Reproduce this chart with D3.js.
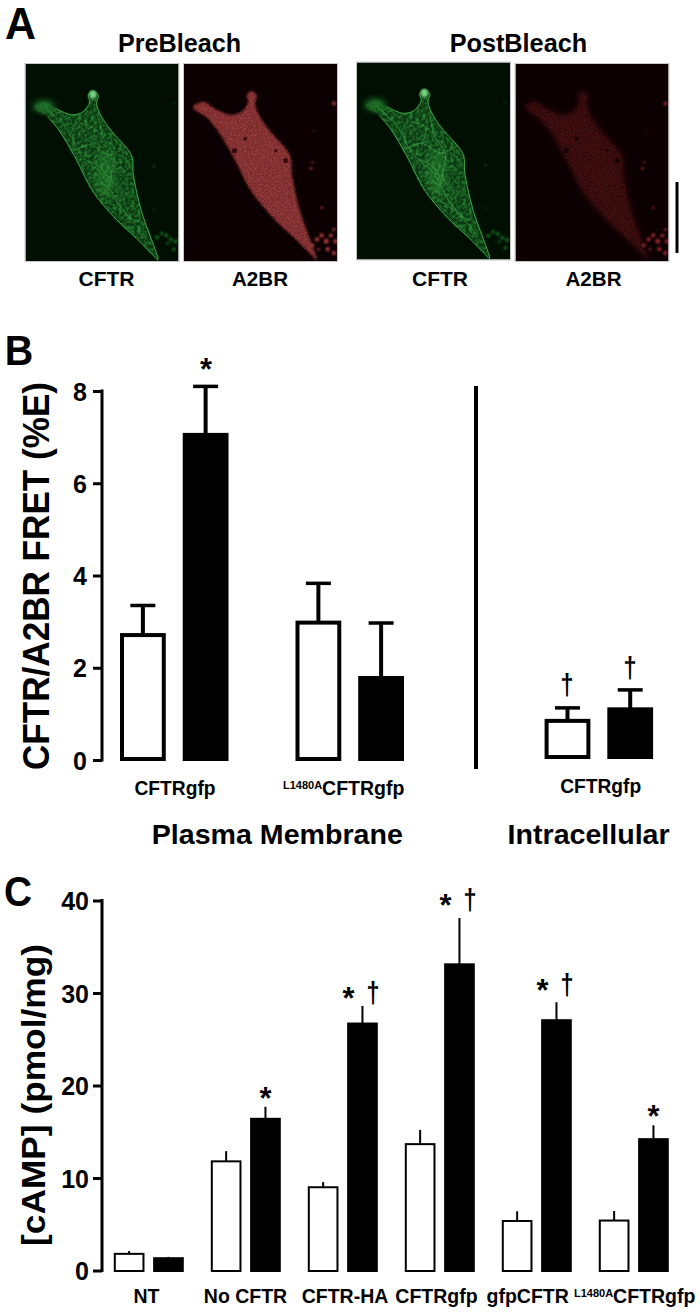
<!DOCTYPE html>
<html><head><meta charset="utf-8">
<script src="https://cdn.jsdelivr.net/npm/d3@7/dist/d3.min.js"></script>
<style>html,body{margin:0;background:#fff}svg{display:block}text{font-family:"Liberation Sans",Arial,sans-serif;font-weight:bold;fill:#000}</style>
</head><body><div id="c"></div>
<script>
// ---- Panel B data
const bGroups = ["CFTRgfp", "L1480A", "Intra"];
const bWhite = [2.73, 3.0, 0.87];
const bBlack = [7.07, 1.8, 1.12];
const bWhiteErr = [3.35, 3.83, 1.13];
const bBlackErr = [8.1, 2.97, 1.52];
const bTicks = [0, 2, 4, 6, 8];
// ---- Panel C data
const cGroups = ["NT", "No CFTR", "CFTR-HA", "CFTRgfp", "gfpCFTR", "L1480ACFTRgfp"];
const cWhite = [1.8, 11.8, 9.0, 13.66, 5.35, 5.4];
const cBlack = [1.33, 16.4, 26.7, 33.1, 27.06, 14.2];
const cWhiteErr = [2.1, 12.9, 9.56, 15.2, 6.4, 6.43];
const cBlackErr = [1.47, 17.7, 28.6, 38.1, 29.0, 15.7];
const cTicks = [0, 10, 20, 30, 40];
const cStar = [false, true, true, true, true, true];
const cDagger = [false, false, true, true, true, false];
const cMarkLevel = [0, 19.2, 30.0, 40.1, 30.9, 17.2];
// ---- Panel A micrograph shapes, in unit coordinates of one panel
const cellOutline = [[.06,.22],[.126,.193],[.2,.227],[.3,.258],[.375,.244],[.42,.193],[.41,.158],[.44,.138],[.475,.158],[.464,.2],[.486,.252],[.55,.33],[.693,.466],[.704,.56],[.758,.748],[.866,.995],[.835,.97],[.725,.884],[.595,.79],[.44,.645],[.32,.466],[.214,.33],[.148,.27]];
const cellFibers = [[[.14,.23],[.27,.33],[.36,.46],[.5,.56],[.6,.7],[.78,.87]],[[.48,.27],[.5,.36],[.58,.47],[.56,.58],[.66,.68]],[[.3,.45],[.42,.41],[.55,.46],[.66,.42]],[[.43,.5],[.5,.53],[.55,.62],[.48,.6]],[[.36,.3],[.45,.33],[.42,.42]],[[.5,.68],[.62,.74],[.72,.8]]];
const greenDebris = [[.86,.88,.014],[.89,.86,.012],[.92,.87,.014],[.95,.89,.014],[.98,.9,.014],[.97,.94,.012],[.93,.91,.01],[.84,.74,.006],[.84,.52,.007],[.97,.2,.006]];
const redDebris = [[.84,.92,.012],[.87,.89,.014],[.9,.87,.014],[.93,.9,.016],[.96,.87,.013],[.98,.84,.01],[.99,.9,.014],[.94,.94,.014],[.98,.96,.014],[.88,.94,.008],[.83,.53,.009],[.84,.5,.007],[.98,.2,.012],[.85,.34,.005],[.9,.73,.008]];
const redHoles = [[.33,.44,.017],[.665,.49,.017],[.4,.38,.012],[.6,.44,.01]];
const panelChannels = ["green", "red", "green", "red"];
const panelTitles = ["CFTR", "A2BR", "CFTR", "A2BR"];

const W = 700, H = 1315;
const svg = d3.select("#c").append("svg").attr("width", W).attr("height", H).attr("viewBox", [0,0,W,H]);
const defs = svg.append("defs");

function grain(id, freq, lo, hi, blur) {
  const f = defs.append("filter").attr("id", id).attr("x", "-5%").attr("y", "-5%").attr("width", "110%").attr("height", "110%").attr("color-interpolation-filters", "sRGB");
  f.append("feTurbulence").attr("type", "fractalNoise").attr("baseFrequency", freq).attr("numOctaves", 2).attr("seed", 4).attr("result", "n");
  f.append("feColorMatrix").attr("in", "n").attr("type", "matrix").attr("values", `0 0 0 0 0 0 0 0 0 0 0 0 0 0 0 ${hi} 0 0 0 ${lo}`).attr("result", "a");
  f.append("feGaussianBlur").attr("in", "SourceGraphic").attr("stdDeviation", blur).attr("result", "b");
  f.append("feComposite").attr("in", "b").attr("in2", "a").attr("operator", "in").attr("result", "c");
  f.append("feGaussianBlur").attr("in", "c").attr("stdDeviation", 0.6);
}
grain("grainG", 0.32, -0.9, 2.4, 0.8);
grain("grainR", 0.7, -1.0, 2.6, 0.8);
[["soft", .7], ["edge", 1], ["soft2", 3]].forEach(([id, s]) => defs.append("filter").attr("id", id).attr("color-interpolation-filters", "sRGB").attr("x", "-30%").attr("y", "-30%").attr("width", "160%").attr("height", "160%").append("feGaussianBlur").attr("stdDeviation", s));

function label(parent, str, x, y, size, width, rotate) {
  const t = parent.append("text").attr("text-anchor", "middle").attr("font-size", size)
    .attr("transform", `translate(${x},${y})` + (rotate ? ` rotate(${rotate})` : ""));
  if (width) t.attr("textLength", width).attr("lengthAdjust", "spacingAndGlyphs");
  t.text(str);
  return t;
}
function mutantLabel(parent, x, y) {
  const t = parent.append("text").attr("transform", `translate(${x},${y})`).attr("text-anchor", "middle");
  t.append("tspan").attr("font-size", 11).attr("dy", -6).text("L1480A");
  t.append("tspan").attr("font-size", 19.5).attr("dy", 6).text("CFTRgfp");
}

// ---------- Panel A
const gA = svg.append("g");
label(gA, "A", 20.5, 39, 44, 31);
label(gA, "PreBleach", 179.5, 52, 25, 123);
label(gA, "PostBleach", 518.4, 52, 25, 137.5);

const panelLeft = d3.scaleOrdinal().domain(d3.range(4)).range([25.5, 184, 357, 515.5]);
const panelTop = d3.scaleOrdinal().domain(d3.range(4)).range([64, 64, 62.5, 64]);
const panelW = 153, panelH = 197;
const labelCenter = d3.scaleOrdinal().domain(d3.range(4)).range([106.5, 260, 440, 593.5]);
const fiberLevel = d3.scaleOrdinal().domain(d3.range(4)).range([.45, 0, .7, 0]);

panelChannels.forEach((ch, i) => {
  const x = d3.scaleLinear().domain([0,1]).range([0, panelW]);
  const y = d3.scaleLinear().domain([0,1]).range([0, panelH]);
  const g = gA.append("g").attr("transform", `translate(${panelLeft(i)},${panelTop(i)})`);
  const clipId = "clip" + i;
  defs.append("clipPath").attr("id", clipId).append("rect").attr("width", panelW).attr("height", panelH);
  g.append("rect").attr("width", panelW).attr("height", panelH).attr("fill", ch === "green" ? "#010f03" : "#0d0003");
  const inner = g.append("g").attr("clip-path", `url(#${clipId})`);
  const outline = d3.line().x(d => x(d[0])).y(d => y(d[1])).curve(d3.curveCatmullRomClosed.alpha(.5))(cellOutline);
  const membrane = d3.line().x(d => x(d[0])).y(d => y(d[1])).curve(d3.curveCatmullRom.alpha(.5))(cellOutline.slice(2));
  if (ch === "green") {
    inner.append("path").attr("d", outline).attr("fill", "#0b3a12").attr("filter", "url(#edge)");
    inner.append("path").attr("d", outline).attr("fill", "#298233").attr("filter", "url(#grainG)");
    inner.append("ellipse").attr("cx", x(.52)).attr("cy", y(.56)).attr("rx", 10).attr("ry", 24).attr("fill", "#2f9038").attr("fill-opacity", .4).attr("filter", "url(#soft2)");
    inner.append("ellipse").attr("cx", x(.12)).attr("cy", y(.215)).attr("rx", 11).attr("ry", 6).attr("fill", "#22762c").attr("fill-opacity", .85).attr("filter", "url(#soft2)");
    inner.selectAll(".fiber").data(cellFibers).join("path").attr("class", "fiber")
      .attr("d", d => d3.line().x(p => x(p[0])).y(p => y(p[1])).curve(d3.curveCatmullRom)(d))
      .attr("fill", "none").attr("stroke", "#3fa648").attr("stroke-width", 1).attr("filter", "url(#soft)").attr("stroke-opacity", fiberLevel(i));
    inner.append("path").attr("d", membrane).attr("fill", "none").attr("stroke", "#47b350").attr("stroke-width", 1).attr("filter", "url(#soft)").attr("stroke-opacity", .9);
    inner.append("ellipse").attr("cx", x(.44)).attr("cy", y(.155)).attr("rx", 3.5).attr("ry", 4).attr("fill", "#79d284").attr("filter", "url(#edge)");
    inner.selectAll(".deb").data(greenDebris).join("circle").attr("class", "deb")
      .attr("cx", d => x(d[0])).attr("cy", d => y(d[1])).attr("r", d => x(d[2])).attr("fill", "#17601f").attr("filter", "url(#edge)");
  } else {
    const fill = i === 1 ? "#7a282a" : "#2e090b";
    const grainFill = i === 1 ? "#9c4646" : "#521315";
    inner.append("path").attr("d", outline).attr("fill", fill).attr("filter", i === 1 ? "url(#edge)" : "url(#soft2)");
    inner.append("path").attr("d", outline).attr("fill", grainFill).attr("filter", "url(#grainR)");
    inner.selectAll(".hole").data(redHoles).join("circle").attr("class", "hole")
      .attr("cx", d => x(d[0])).attr("cy", d => y(d[1])).attr("r", d => x(d[2]))
      .attr("fill", i === 1 ? "#3a0c0e" : "#150305").attr("filter", "url(#soft)");
    inner.selectAll(".deb").data(redDebris).join("circle").attr("class", "deb")
      .attr("cx", d => x(d[0])).attr("cy", d => y(d[1])).attr("r", d => x(d[2]))
      .attr("fill", i === 1 ? "#a83c3e" : "#96282e").attr("filter", "url(#edge)");
  }
  g.append("rect").attr("x", -.5).attr("y", -.5).attr("width", panelW+1).attr("height", panelH+1).attr("fill", "none").attr("stroke", "#c8c8c8").attr("stroke-width", 1);
  label(gA, panelTitles[i], labelCenter(i), 286, 20, 56);
});
gA.append("line").attr("x1", 677).attr("x2", 677).attr("y1", 182).attr("y2", 253).attr("stroke", "#000").attr("stroke-width", 3);

// ---------- Panel B
const gB = svg.append("g");
label(gB, "B", 19, 365, 42, 28.5);
const yB = d3.scaleLinear().domain([0, 8]).range([760, 391]);
const bLeft = d3.scaleOrdinal().domain(bGroups).range([120, 295.5, 544.6]);
const bSub = d3.scaleBand().domain(["white", "black"]).range([0, 108.5]).paddingInner(0.27);
const bShift = d3.scaleOrdinal().domain(bGroups).range([0, 0, -2]);

gB.append("g").attr("transform", "translate(102,0)")
  .call(d3.axisLeft(yB).tickValues(bTicks).tickSizeOuter(0).tickSize(9).tickPadding(6))
  .call(a => a.select(".domain").remove())
  .call(a => a.selectAll("line").attr("stroke", "#000").attr("stroke-width", 3))
  .call(a => a.selectAll("text").attr("font-size", 25).attr("dy", ".36em").attr("font-family", null));
gB.append("line").attr("x1", 102).attr("x2", 102).attr("y1", yB(8)-1.5).attr("y2", yB(0)+1.5).attr("stroke", "#000").attr("stroke-width", 3);

bGroups.forEach((g, i) => {
  const base = yB(0) + bShift(g) + 1;
  const wx = bLeft(g) + bSub("white"), bx = bLeft(g) + bSub("black"), bw = bSub.bandwidth();
  const err = (x, e, v) => {
    gB.append("line").attr("x1", x+bw/2).attr("x2", x+bw/2).attr("y1", yB(e)).attr("y2", yB(v)).attr("stroke", "#000").attr("stroke-width", 4);
    gB.append("line").attr("x1", x+bw/2-12.5).attr("x2", x+bw/2+12.5).attr("y1", yB(e)).attr("y2", yB(e)).attr("stroke", "#000").attr("stroke-width", 3.5);
  };
  err(wx, bWhiteErr[i], bWhite[i]);
  err(bx, bBlackErr[i], bBlack[i]);
  gB.append("rect").attr("x", wx+2).attr("y", yB(bWhite[i])+1).attr("width", bw-4).attr("height", base-yB(bWhite[i])-3).attr("fill", "#fff").attr("stroke", "#000").attr("stroke-width", 4);
  gB.append("rect").attr("x", bx).attr("y", yB(bBlack[i])-1).attr("width", bw).attr("height", base-yB(bBlack[i])+1).attr("fill", "#000");
});
gB.append("line").attr("x1", 476).attr("x2", 476).attr("y1", 386).attr("y2", 769).attr("stroke", "#000").attr("stroke-width", 4);
label(gB, "*", 206, 380, 32, 12);
label(gB, "†", 567, 695, 29, 13);
label(gB, "†", 630, 678, 29, 13);
label(gB, "CFTRgfp", 175, 795, 19.5, 81);
mutantLabel(gB, 343.7, 795);
label(gB, "CFTRgfp", 600.7, 793, 19.5, 81);
label(gB, "Plasma Membrane", 277.3, 844, 28.5, 251);
label(gB, "Intracellular", 588.6, 844, 28.5, 162);
label(gB, "CFTR/A2BR FRET (%E)", 49, 576, 37, 388, -90);

// ---------- Panel C
const gC = svg.append("g");
label(gC, "C", 18, 906, 42, 28);
const yC = d3.scaleLinear().domain([0, 40]).range([1270.5, 900.5]);
const cX = d3.scaleBand().domain(cGroups).range([113.8, 113.8 + 6*97]);
const cSub = d3.scaleBand().domain(["white", "black"]).range([0, 70]).paddingInner(0.22);

gC.append("g").attr("transform", "translate(102,0)")
  .call(d3.axisLeft(yC).tickValues(cTicks).tickSizeOuter(0).tickSize(9).tickPadding(4))
  .call(a => a.select(".domain").remove())
  .call(a => a.selectAll("line").attr("stroke", "#000").attr("stroke-width", 3))
  .call(a => a.selectAll("text").attr("font-size", 25).attr("dy", ".36em").attr("font-family", null));
gC.append("line").attr("x1", 102).attr("x2", 102).attr("y1", yC(40)-1.5).attr("y2", yC(0)+1.5).attr("stroke", "#000").attr("stroke-width", 3);

cGroups.forEach((g, i) => {
  const wx = cX(g) + cSub("white"), bx = cX(g) + cSub("black"), bw = cSub.bandwidth();
  gC.append("line").attr("x1", wx+bw/2).attr("x2", wx+bw/2).attr("y1", yC(cWhiteErr[i])).attr("y2", yC(cWhite[i])).attr("stroke", "#000").attr("stroke-width", 2);
  gC.append("line").attr("x1", bx+bw/2).attr("x2", bx+bw/2).attr("y1", yC(cBlackErr[i])).attr("y2", yC(cBlack[i])).attr("stroke", "#000").attr("stroke-width", 2);
  gC.append("rect").attr("x", wx+1).attr("y", yC(cWhite[i])).attr("width", bw-2).attr("height", yC(0)-yC(cWhite[i])+.5).attr("fill", "#fff").attr("stroke", "#000").attr("stroke-width", 2);
  gC.append("rect").attr("x", bx).attr("y", yC(cBlack[i])-1).attr("width", bw).attr("height", yC(0)-yC(cBlack[i])+2.5).attr("fill", "#000");
  const cx = bx + bw/2, my = yC(cMarkLevel[i]);
  if (cStar[i]) label(gC, "*", cDagger[i] ? cx - 14 : cx, my + 16, 32, 12);
  if (cDagger[i]) label(gC, "†", cx + 10.5, my + 10, 29, 13);
});
const cCenters = d3.scaleOrdinal().domain(cGroups.slice(0, 5)).range([146.5, 245.5, 345, 436.5, 527.7]);
cGroups.slice(0, 5).forEach(g => label(gC, g, cCenters(g), 1303, 19.5));
mutantLabel(gC, 634.7, 1303);
label(gC, "[cAMP] (pmol/mg)", 45, 1095, 34, 302, -90);
</script></body></html>
